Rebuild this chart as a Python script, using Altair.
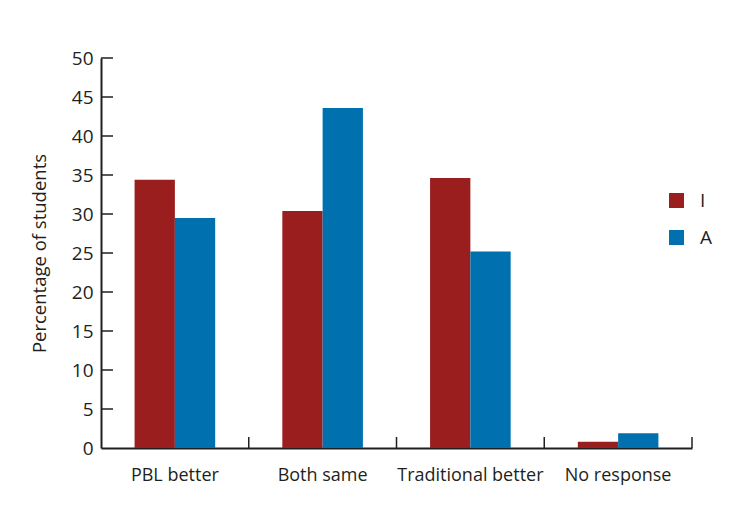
import altair as alt
import pandas as pd

categories = ["PBL better", "Both same", "Traditional better", "No response"]
groups = ["I", "A"]
values_I = [34.4, 30.4, 34.6, 0.8]
values_A = [29.5, 43.6, 25.2, 1.9]
y_ticks = [5, 10, 15, 20, 25, 30, 35, 40, 45, 50]
x_boundaries = [1, 2, 3, 4]

colors = ["#9a1e1e", "#0071ae"]
FONT = "Open Sans"
INK = "#231f20"

rows = []
for c, a, b in zip(categories, values_I, values_A):
    rows.append({"category": c, "group": "I", "value": a})
    rows.append({"category": c, "group": "A", "value": b})
df = pd.DataFrame(rows)

W, H = 591, 390

y_axis = alt.Axis(title="Percentage of students", values=[0] + y_ticks, ticks=False,
                  labelOverlap=False, grid=False, labelPadding=8, labelFontSize=19,
                  labelFont=FONT, labelColor=INK, titleFont=FONT, titleFontSize=18.5,
                  titleFontWeight="normal", titleColor=INK, titlePadding=22,
                  domainColor=INK, domainWidth=2)
y_scale = alt.Scale(domain=[0, 50], nice=False)

bars = alt.Chart(df).mark_bar().encode(
    x=alt.X("category:N", sort=categories,
            scale=alt.Scale(paddingInner=0.4545, paddingOuter=0.2273),
            axis=alt.Axis(title=None, labelAngle=0, ticks=False, labelPadding=18,
                          labelFontSize=18, labelFont=FONT, labelColor=INK,
                          domainColor=INK, domainWidth=2)),
    xOffset=alt.XOffset("group:N", sort=groups, scale=alt.Scale(domain=groups, paddingInner=0, paddingOuter=0)),
    y=alt.Y("value:Q", scale=y_scale, axis=y_axis),
    color=alt.Color("group:N", sort=groups,
                    scale=alt.Scale(domain=groups, range=colors),
                    legend=alt.Legend(title=None, orient="none", legendX=566, legendY=133,
                                      symbolType="square", symbolSize=225, symbolStrokeWidth=0,
                                      labelFont=FONT, labelFontSize=19, labelColor=INK,
                                      rowPadding=17, labelOffset=14)),
)

ytick_df = pd.DataFrame({"value": y_ticks})
yticks = alt.Chart(ytick_df).mark_rule(color=INK, strokeWidth=1.5).encode(
    y=alt.Y("value:Q", scale=y_scale, axis=y_axis),
    x=alt.value(0), x2=alt.value(12),
)

xtick_df = pd.DataFrame({"b": x_boundaries})
xticks = alt.Chart(xtick_df).mark_rule(color=INK, strokeWidth=1.5).encode(
    x=alt.X("b:Q", scale=alt.Scale(domain=[0, 4], nice=False), axis=None),
    y=alt.value(H - 11), y2=alt.value(H),
)

chart = alt.layer(bars, yticks, xticks).resolve_scale(x="independent").properties(
    width=W, height=H,
    background="white",
    autosize=alt.AutoSizeParams(type="none"),
    padding={"left": 93, "top": 50, "right": 40, "bottom": 50},
).configure_view(strokeWidth=0, stroke=None)

chart.save("out.html", embed_options={"renderer": "svg", "actions": False})
